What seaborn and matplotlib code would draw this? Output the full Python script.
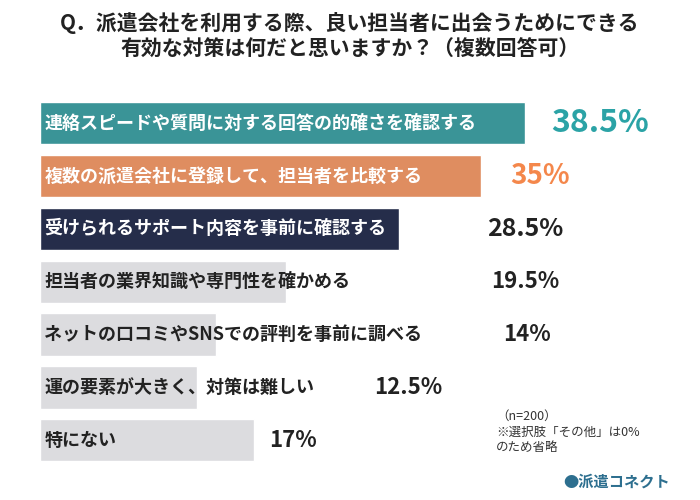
import numpy as np
import pandas as pd
import matplotlib
matplotlib.use("Agg")
import matplotlib.pyplot as plt
import matplotlib.transforms as mtransforms
import seaborn as sns

labels = ["連絡スピードや質問に対する回答の的確さを確認する",
          "複数の派遣会社に登録して、担当者を比較する",
          "受けられるサポート内容を事前に確認する",
          "担当者の業界知識や専門性を確かめる",
          "ネットの口コミやSNSでの評判を事前に調べる",
          "運の要素が大きく、対策は難しい",
          "特にない"]
values = [38.5, 35, 28.5, 19.5, 14, 12.5, 17]
value_text = ["38.5%", "35%", "28.5%", "19.5%", "14%", "12.5%", "17%"]
bar_colors = ["#2ba3a6", "#f4874b", "#1f2a50", "#dcdcdf", "#dcdcdf", "#dcdcdf", "#dcdcdf"]
text_colors = ["white", "white", "white", "#222222", "#222222", "#222222", "#222222"]
value_colors = ["#2ba3a6", "#f4874b", "#222222", "#222222", "#222222", "#222222", "#222222"]
value_x = [600, 540, 525, 525, 527, 408, 293]  # pixel centres of percent labels
value_size = [23, 20, 18, 16, 16, 16, 16]

sns.set_theme(style="white")
plt.rcParams['font.family'] = ['Noto Sans CJK JP', 'DejaVu Sans']

fig = plt.figure(figsize=(7, 5), dpi=100)
ax = fig.add_axes([40 / 700, 28 / 500, 560 / 700, 378 / 500])
df = pd.DataFrame({"label": labels, "value": values})
sns.barplot(data=df, x="value", y="label", hue="label", palette=bar_colors,
            legend=False, ax=ax, width=0.8, orient="h")
ax.set_xlim(0, 38.5 * 560 / 485)
ax.set_ylim(6.6, -0.55)
ax.axis("off")

trans = mtransforms.blended_transform_factory(fig.transFigure, ax.transData)
for i, lab in enumerate(labels):
    ax.text(0.35, i, lab, color=text_colors[i], fontsize=13, fontweight="bold",
            va="center", ha="left")
    ax.text(value_x[i] / 700, i, value_text[i], color=value_colors[i],
            fontsize=value_size[i], fontweight="bold", va="center", ha="center",
            transform=trans)

fig.text(0.5, 0.955, "Q．派遣会社を利用する際、良い担当者に出会うためにできる",
         ha="center", va="center", fontsize=15, fontweight="bold", color="#222222")
fig.text(0.5, 0.902, "有効な対策は何だと思いますか？（複数回答可）",
         ha="center", va="center", fontsize=15, fontweight="bold", color="#222222")
fig.text(496 / 700, 1 - 432 / 500, "（n=200）\n※選択肢「その他」は0%\nのため省略",
         ha="left", va="center", fontsize=9, color="#333333", linespacing=1.3)
fig.text(563 / 700, 1 - 482 / 500, "●派遣コネクト", ha="left", va="center",
         fontsize=11, color="#2d6f8f", fontweight="bold")

fig.savefig("out.png", dpi=100)
